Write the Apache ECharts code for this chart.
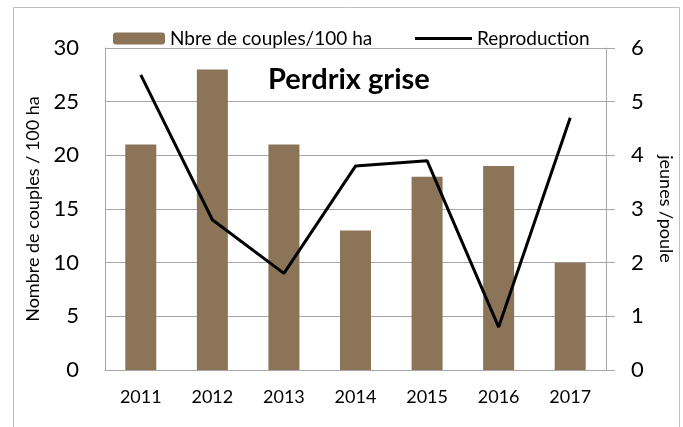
<!DOCTYPE html>
<html>
<head>
<meta charset="utf-8">
<script src="https://cdn.jsdelivr.net/npm/echarts@6/dist/echarts.min.js"></script>
<style>
  html, body { margin: 0; padding: 0; background: #fff; }
  #chart { width: 683px; height: 427px; }
</style>
</head>
<body>
<div id="chart"></div>
<script>
// data
var years = ['2011', '2012', '2013', '2014', '2015', '2016', '2017'];
var couples = [21, 28, 21, 13, 18, 19, 10];
var reproduction = [5.5, 2.8, 1.8, 3.8, 3.9, 0.8, 4.7];

var font = 'Lato, "Noto Sans", sans-serif';
var gridGray = '#a6a6a6';

var myChart = echarts.init(document.getElementById('chart'), null, { renderer: 'canvas' });

var option = {
  animation: false,
  textStyle: { fontFamily: font, color: '#000' },
  title: {
    text: 'Perdrix grise',
    left: 268,
    top: 65,
    padding: 0,
    textStyle: { fontFamily: font, fontSize: 29, fontWeight: 'bold', color: '#000' }
  },
  // two legends so each item sits where it does in the picture
  legend: [
    {
      data: ['Nbre de couples/100 ha'],
      left: 113, top: 29,
      padding: 0,
      itemWidth: 52, itemHeight: 12,
      textStyle: { fontFamily: font, fontSize: 19, color: '#000' }
    },
    {
      data: [{ name: 'Reproduction', icon: 'rect' }],
      left: 415, top: 29,
      padding: 0,
      itemWidth: 57, itemHeight: 3,
      textStyle: { fontFamily: font, fontSize: 19, color: '#000' }
    }
  ],
  grid: { left: 105, right: 73, top: 48, bottom: 57 },
  xAxis: {
    type: 'category',
    data: years,
    axisLine: { lineStyle: { color: gridGray, width: 1 } },
    axisTick: { show: false },
    axisLabel: { fontSize: 18, color: '#000', margin: 18, fontFamily: font }
  },
  yAxis: [
    {
      type: 'value',
      min: 0, max: 30, interval: 5,
      name: 'Nombre de couples / 100 ha',
      nameLocation: 'middle',
      nameGap: 59,
      nameRotate: 90,
      nameTextStyle: { fontSize: 18, color: '#000', fontFamily: font },
      axisLine: { show: true, lineStyle: { color: gridGray } },
      axisTick: { show: false },
      axisLabel: { fontSize: 22, color: '#000', margin: 26, fontFamily: font },
      splitLine: { lineStyle: { color: gridGray, width: 1 } }
    },
    {
      type: 'value',
      min: 0, max: 6, interval: 1,
      name: 'jeunes /poule',
      nameLocation: 'middle',
      nameGap: 51,
      nameRotate: -90,
      nameTextStyle: { fontSize: 18, color: '#000', fontFamily: font },
      axisLine: { show: true, lineStyle: { color: gridGray } },
      axisTick: { show: true, inside: false, length: 9, lineStyle: { color: gridGray } },
      axisLabel: { fontSize: 22, color: '#000', margin: 25, fontFamily: font },
      splitLine: { show: false }
    }
  ],
  graphic: [
    {
      type: 'rect',
      shape: { x: 13.5, y: 7.5, width: 666, height: 440 },
      style: { fill: 'none', stroke: '#bfbfbf', lineWidth: 1 },
      silent: true
    }
  ],
  series: [
    {
      name: 'Nbre de couples/100 ha',
      type: 'bar',
      data: couples,
      barWidth: 31,
      itemStyle: { color: '#8b7458' }
    },
    {
      name: 'Reproduction',
      type: 'line',
      yAxisIndex: 1,
      data: reproduction,
      symbol: 'none',
      lineStyle: { color: '#000', width: 3 },
      itemStyle: { color: '#000' }
    }
  ]
};

myChart.setOption(option);
window.addEventListener('resize', myChart.resize);
</script>
</body>
</html>
